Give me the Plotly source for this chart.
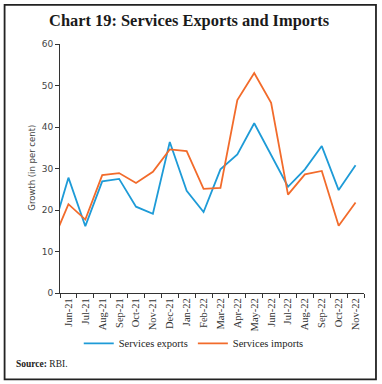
import plotly.graph_objects as go

months = ["May-21", "Jun-21", "Jul-21", "Aug-21", "Sep-21", "Oct-21", "Nov-21", "Dec-21",
          "Jan-22", "Feb-22", "Mar-22", "Apr-22", "May-22", "Jun-22", "Jul-22",
          "Aug-22", "Sep-22", "Oct-22", "Nov-22"]
exports = [14.0, 27.8, 16.1, 26.9, 27.5, 20.8, 19.1, 36.4, 24.6, 19.5, 29.8,
           33.4, 40.9, 33.2, 25.6, 29.8, 35.4, 24.8, 30.8]
imports = [11.8, 21.4, 17.7, 28.4, 28.9, 26.5, 29.2, 34.6, 34.2, 25.1, 25.3,
           46.5, 53.0, 45.8, 23.7, 28.6, 29.4, 16.2, 21.8]
y_ticks = [0, 10, 20, 30, 40, 50, 60]

xpos = list(range(-1, len(months) - 1))  # May-21 sits just left of the visible range
labels = months[1:]

W, H = 382, 384
L, R, T, B = 59.5, 18, 44, 91.3
pw, ph = W - L - R, H - T - B

def px(x):
    return (x - L) / pw

def py(y):
    return (H - B - y) / ph

blue = "#1E9BD7"
orange = "#F26B2B"

fig = go.Figure()
fig.add_trace(go.Scatter(x=xpos, y=exports, mode="lines", name="Services exports",
                         line=dict(color=blue, width=1.8)))
fig.add_trace(go.Scatter(x=xpos, y=imports, mode="lines", name="Services imports",
                         line=dict(color=orange, width=1.8)))

fig.update_layout(
    width=W, height=H,
    margin=dict(l=L, r=R, t=T, b=B, autoexpand=False),
    paper_bgcolor="white", plot_bgcolor="white",
    showlegend=True,
    legend=dict(orientation="h", x=0.44, xanchor="center", y=py(343), yanchor="middle",
                font=dict(family="Liberation Serif", size=10.5, color="#222"),
                itemwidth=30, tracegroupgap=0, bgcolor="rgba(0,0,0,0)"),
    title=dict(text="<b>Chart 19: Services Exports and Imports</b>",
               x=0.495, xanchor="center", xref="container",
               y=1 - 20 / H, yanchor="middle", yref="container",
               font=dict(family="Liberation Serif", size=16.4, color="#1a1a1a")),
    xaxis=dict(range=[-0.5, len(labels) - 0.5], tickvals=list(range(len(labels))),
               ticktext=labels, tickangle=-90, ticks="", showgrid=False, zeroline=False,
               showline=True, linecolor="#333", linewidth=1,
               tickfont=dict(family="Liberation Serif", size=10.5, color="#333"),
               minor=dict(tick0=-0.5, dtick=1, ticks="outside", ticklen=4,
                          tickcolor="#333", showgrid=False),
               fixedrange=True),
    yaxis=dict(range=[0, 60], tickvals=y_ticks, ticks="outside", ticklen=4,
               tickcolor="#333", showgrid=False, zeroline=False,
               showline=True, linecolor="#333", linewidth=1,
               tickfont=dict(family="DejaVu Sans", size=9, color="#444"),
               fixedrange=True),
)

fig.add_annotation(text="Growth (in per cent)", textangle=-90, x=px(25), y=py(168),
                   xref="paper", yref="paper", showarrow=False,
                   font=dict(family="DejaVu Sans", size=8.5, color="#444"))
fig.add_annotation(text="<b>Source:</b> RBI.", x=px(13), y=py(364), xref="paper", yref="paper",
                   xanchor="left", yanchor="middle", showarrow=False,
                   font=dict(family="Liberation Serif", size=9.5, color="#222"))
fig.add_shape(type="rect", xref="paper", yref="paper",
              x0=px(4), x1=px(376), y0=py(379), y1=py(5),
              line=dict(color="#222", width=1.8), layer="above")

fig.write_html("out.html", config={"displayModeBar": False},
               post_script="document.body.style.margin='0';document.body.style.overflow='hidden';")
